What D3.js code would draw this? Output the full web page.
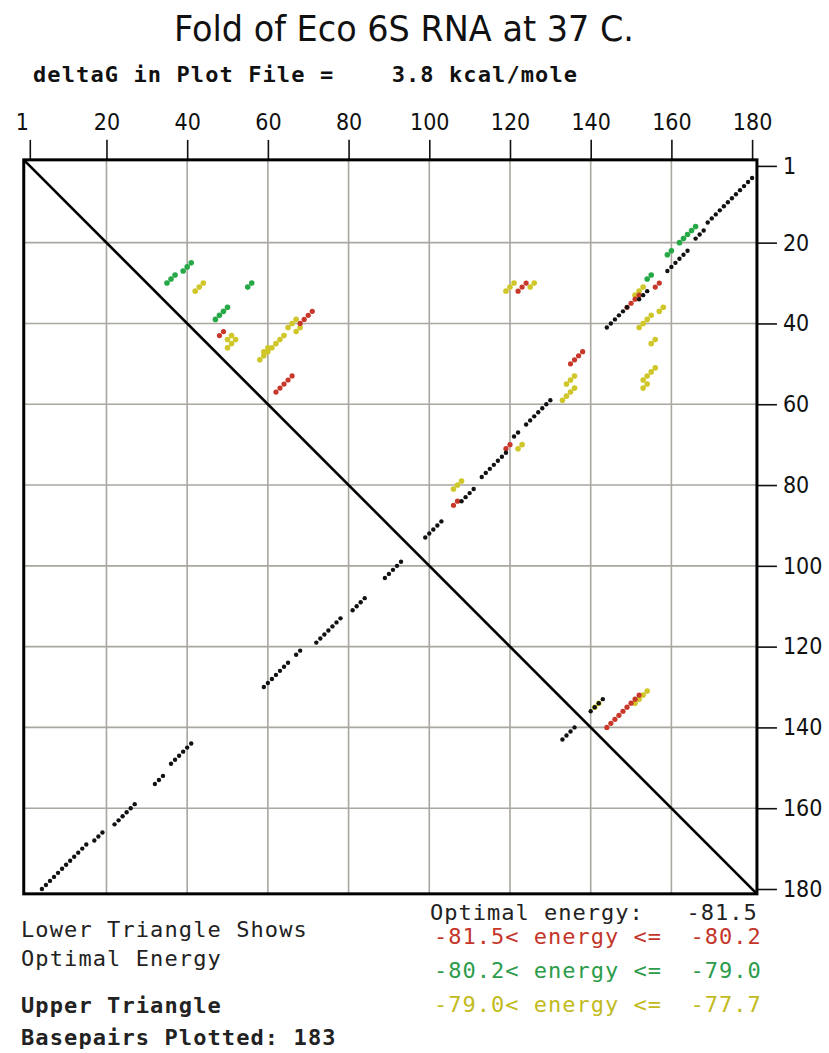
<!DOCTYPE html>
<html>
<head>
<meta charset="utf-8">
<script src="https://cdn.jsdelivr.net/npm/d3@7"></script>
<style>
  html, body { margin: 0; padding: 0; background: #fff; }
  svg { display: block; }
  text { white-space: pre; }
</style>
</head>
<body>
<script>
// ---- Data -------------------------------------------------------------
const titleText = "Fold of Eco 6S RNA at 37 C.";
const deltaGLabel = "deltaG in Plot File =    3.8 kcal/mole";
const tickValues = [1, 20, 40, 60, 80, 100, 120, 140, 160, 180];
const gridValues = [20, 40, 60, 80, 100, 120, 140, 160];
const seqLength = 180;

// Helices as [i, j, length]: basepair k of a helix is (i + k, j - k).
const optimalHelices = [
  [4, 180, 12], [17, 168, 3], [22, 164, 6], [32, 154, 3], [36, 149, 6],
  [59, 130, 7], [67, 122, 2], [72, 119, 7], [81, 111, 4], [89, 103, 5],
  [133, 143, 4]
];
// -81.5 < energy <= -80.2
const redHelices = [
  [42, 49, 2], [37, 71, 4], [53, 66, 5], [30, 124, 3], [47, 138, 4],
  [70, 120, 2], [84, 107, 2], [30, 157, 2], [33, 152, 4], [132, 152, 9]
];
// -80.2 < energy <= -79.0
const greenHelices = [
  [25, 41, 3], [28, 37, 3], [30, 56, 2], [36, 50, 4],
  [16, 166, 5], [22, 160, 2], [28, 155, 2]
];
// -79.0 < energy <= -77.7
const yellowHelices = [
  [30, 44, 3], [43, 51, 2], [44, 52, 2], [46, 50, 1], [43, 64, 7],
  [46, 60, 2], [39, 67, 3], [41, 68, 2], [30, 121, 3], [30, 126, 2],
  [53, 136, 3], [56, 136, 4], [70, 123, 2], [79, 108, 3], [31, 153, 3],
  [36, 158, 2], [38, 155, 4], [44, 156, 2], [51, 156, 4], [55, 154, 2],
  [131, 154, 4], [134, 142, 2]
];

const optimalEnergy = "Optimal energy:   -81.5";
const legendRows = [
  { label: "-81.5< energy <=  -80.2", color: "#c4362a" },
  { label: "-80.2< energy <=  -79.0", color: "#2c9c4a" },
  { label: "-79.0< energy <=  -77.7", color: "#c2bb1e" }
];
const noteLines = [
  { text: "Lower Triangle Shows", bold: false },
  { text: "Optimal Energy", bold: false },
  { text: "Upper Triangle", bold: true },
  { text: "Basepairs Plotted: 183", bold: true }
];

// ---- Helpers ----------------------------------------------------------
function expand(helices) {
  const pairs = [];
  helices.forEach(([i, j, n]) => {
    for (let k = 0; k < n; k++) pairs.push([i + k, j - k]);
  });
  return pairs;
}

const W = 829, H = 1053;
const svg = d3.select("body").append("svg")
  .attr("width", W).attr("height", H);

const x = d3.scaleLinear().domain([1, seqLength]).range([29.8, 752.1]);
const y = d3.scaleLinear().domain([1, seqLength]).range([165.9, 889.0]);

const x0 = x(-0.5), x1 = x(181.2);
const y0 = y(-0.5), y1 = y(181.2);

const mono = "'DejaVu Sans Mono', 'Liberation Mono', monospace";
const cond = "'DejaVu Sans Condensed', 'DejaVu Sans', sans-serif";

// ---- Titles -----------------------------------------------------------
svg.append("text")
  .attr("x", 174).attr("y", 41)
  .attr("font-family", cond)
  .attr("font-size", 36)
  .attr("textLength", 460)
  .attr("lengthAdjust", "spacingAndGlyphs")
  .attr("fill", "#111")
  .text(titleText);

svg.append("text")
  .attr("x", 33).attr("y", 82)
  .attr("font-family", mono)
  .attr("font-weight", "bold")
  .attr("font-size", 22)
  .attr("letter-spacing", 1.1)
  .attr("fill", "#111")
  .text(deltaGLabel);

// ---- Grid -------------------------------------------------------------
const grid = svg.append("g")
  .attr("stroke", "#aaa6a0").attr("stroke-width", 1.6);
grid.selectAll("line.v").data(gridValues).join("line")
  .attr("class", "v")
  .attr("x1", d => x(d)).attr("x2", d => x(d))
  .attr("y1", y0).attr("y2", y1);
grid.selectAll("line.h").data(gridValues).join("line")
  .attr("class", "h")
  .attr("y1", d => y(d)).attr("y2", d => y(d))
  .attr("x1", x0).attr("x2", x1);

// ---- Axes -------------------------------------------------------------
const topAxis = d3.axisTop(x).tickValues(tickValues)
  .tickSize(20).tickPadding(10).tickFormat(d3.format("d"));
const gTop = svg.append("g")
  .attr("transform", `translate(0,${y0})`)
  .call(topAxis);
gTop.select(".domain").remove();
gTop.selectAll(".tick line").attr("stroke", "#111").attr("stroke-width", 1.6);
gTop.selectAll(".tick text")
  .attr("font-family", cond).attr("font-size", 23).attr("fill", "#111")
  .attr("dx", d => d === 1 ? -8 : 0);

const rightAxis = d3.axisRight(y).tickValues(tickValues)
  .tickSize(20).tickPadding(6).tickFormat(d3.format("d"));
const gRight = svg.append("g")
  .attr("transform", `translate(${x1},0)`)
  .call(rightAxis);
gRight.select(".domain").remove();
gRight.selectAll(".tick line").attr("stroke", "#111").attr("stroke-width", 1.6);
gRight.selectAll(".tick text")
  .attr("font-family", cond).attr("font-size", 23).attr("fill", "#111");

// ---- Frame and diagonal ----------------------------------------------
svg.append("rect")
  .attr("x", x0).attr("y", y0)
  .attr("width", x1 - x0).attr("height", y1 - y0)
  .attr("fill", "none").attr("stroke", "#000").attr("stroke-width", 3);

svg.append("line")
  .attr("x1", x0).attr("y1", y0).attr("x2", x1).attr("y2", y1)
  .attr("stroke", "#000").attr("stroke-width", 2.6);

// ---- Dots -------------------------------------------------------------
// Upper triangle: column = j, row = i.  Lower triangle: column = i, row = j.
function drawUpper(helices, color, r) {
  svg.append("g").selectAll("circle")
    .data(expand(helices)).join("circle")
    .attr("cx", d => x(d[1])).attr("cy", d => y(d[0]))
    .attr("r", r).attr("fill", color);
}
drawUpper(yellowHelices, "#cfc72a", 2.8);
drawUpper(greenHelices, "#27a846", 2.8);
drawUpper(redHelices, "#c8382a", 2.6);
drawUpper(optimalHelices, "#111", 2.2);

svg.append("g").selectAll("circle")
  .data(expand(optimalHelices)).join("circle")
  .attr("cx", d => x(d[0])).attr("cy", d => y(d[1]))
  .attr("r", 2.2).attr("fill", "#111");

// ---- Legend -----------------------------------------------------------
svg.append("text")
  .attr("x", 430).attr("y", 920)
  .attr("font-family", mono).attr("font-size", 22)
  .attr("letter-spacing", 1.0).attr("fill", "#222")
  .text(optimalEnergy);

svg.selectAll("text.legend").data(legendRows).join("text")
  .attr("class", "legend")
  .attr("x", 434)
  .attr("y", (d, i) => 944 + i * 34)
  .attr("font-family", mono).attr("font-size", 22)
  .attr("letter-spacing", 1.0)
  .attr("fill", d => d.color)
  .text(d => d.label);

const noteY = [937, 966, 1013, 1045];
svg.selectAll("text.note").data(noteLines).join("text")
  .attr("class", "note")
  .attr("x", 21)
  .attr("y", (d, i) => noteY[i])
  .attr("font-family", mono).attr("font-size", 22)
  .attr("font-weight", d => d.bold ? "bold" : "normal")
  .attr("letter-spacing", 1.1)
  .attr("fill", "#222")
  .text(d => d.text);
</script>
</body>
</html>
